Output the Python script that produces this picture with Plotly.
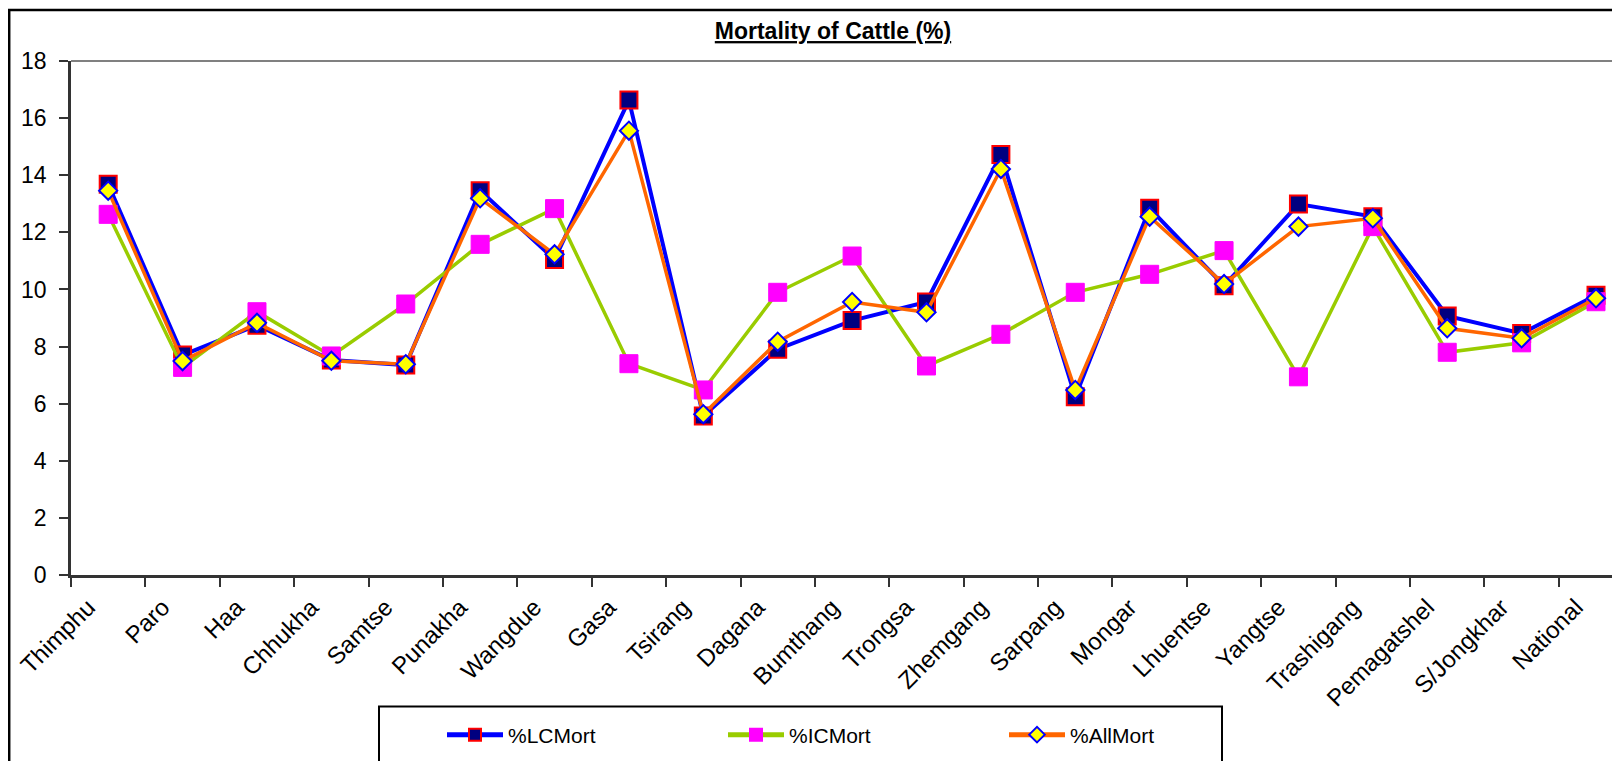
import plotly.graph_objects as go

districts = ["Thimphu", "Paro", "Haa", "Chhukha", "Samtse", "Punakha", "Wangdue",
             "Gasa", "Tsirang", "Dagana", "Bumthang", "Trongsa", "Zhemgang", "Sarpang",
             "Mongar", "Lhuentse", "Yangtse", "Trashigang", "Pemagatshel", "S/Jongkhar",
             "National"]
lc_mort = [13.68, 7.70, 8.75, 7.53, 7.35, 13.46, 11.05, 16.63, 5.57, 7.91, 8.91,
           9.56, 14.73, 6.24, 12.84, 10.13, 12.99, 12.55, 9.07, 8.46, 9.80]
ic_mort = [12.63, 7.27, 9.22, 7.67, 9.49, 11.58, 12.83, 7.40, 6.48, 9.90, 11.17,
           7.32, 8.43, 9.90, 10.53, 11.36, 6.94, 12.20, 7.80, 8.13, 9.57]
all_mort = [13.46, 7.49, 8.83, 7.50, 7.38, 13.19, 11.23, 15.56, 5.63, 8.17, 9.56,
            9.20, 14.22, 6.48, 12.55, 10.19, 12.20, 12.49, 8.64, 8.29, 9.69]

# page body has an 8px margin, so figure coords = page coords - 8
W, H = 1620, 761
L, T = 63, 53
ph = 514
B = H - T - ph
pw = W - L
FONT = "Liberation Sans, Arial, sans-serif"

def px(x):  # figure pixel -> paper x
    return (x - L) / pw

def py(y):  # figure pixel -> paper y
    return (T + ph - y) / ph

fig = go.Figure()
fig.add_trace(go.Scatter(x=districts, y=lc_mort, name="%LCMort", mode="lines+markers",
                         line=dict(color="#0000FF", width=4),
                         marker=dict(symbol="square", size=17, color="#000080",
                                     line=dict(color="#FF0000", width=2))))
fig.add_trace(go.Scatter(x=districts, y=ic_mort, name="%ICMort", mode="lines+markers",
                         line=dict(color="#99CC00", width=3.5),
                         marker=dict(symbol="square", size=18, color="#FF00FF",
                                     line=dict(color="#FF00FF", width=1))))
fig.add_trace(go.Scatter(x=districts, y=all_mort, name="%AllMort", mode="lines+markers",
                         line=dict(color="#FF6600", width=3.5),
                         marker=dict(symbol="diamond", size=14, color="#FFFF00",
                                     line=dict(color="#0000FF", width=2))))

# chart frame, plot-area top border, legend box
fig.add_shape(type="rect", xref="paper", yref="paper",
              x0=px(1.2), x1=px(1640), y0=py(790), y1=py(2),
              line=dict(color="black", width=2.5), layer="below")
fig.add_shape(type="line", xref="paper", yref="paper", x0=0, x1=1, y0=1, y1=1,
              line=dict(color="#808080", width=2))
fig.add_shape(type="rect", xref="paper", yref="paper",
              x0=px(371), x1=px(1214), y0=py(790), y1=py(698.5),
              line=dict(color="black", width=2))

fig.update_layout(
    width=W, height=H,
    margin=dict(l=L, r=0, t=T, b=B),
    paper_bgcolor="white", plot_bgcolor="white",
    font=dict(family=FONT, size=23, color="black"),
    title=dict(text="<b><u>Mortality of Cattle (%)</u></b>", font=dict(size=23),
               xref="container", x=825 / W, xanchor="center",
               yref="container", y=1 - 23 / H, yanchor="middle"),
    xaxis=dict(type="category", range=[-0.5, 20.43], tickangle=-45,
               tickson="boundaries", ticks="outside", ticklen=9, tickwidth=2,
               tickcolor="#333333", showline=True, linecolor="#333333", linewidth=2.5,
               showgrid=False, zeroline=False, tickfont=dict(size=24),
               ticklabelshift=-20, ticklabelstandoff=6),
    yaxis=dict(range=[0, 18], dtick=2, ticks="outside", ticklen=9, tickwidth=2,
               tickcolor="#333333", showline=True, linecolor="#333333", linewidth=2.5,
               showgrid=False, zeroline=False, ticklabelstandoff=8),
    legend=dict(orientation="h", xref="paper", x=px(434), xanchor="left",
                yref="paper", y=py(727), yanchor="middle",
                entrywidth=210, entrywidthmode="pixels", itemwidth=56,
                itemsizing="constant",
                font=dict(size=21), bgcolor="rgba(0,0,0,0)", borderwidth=0),
)

fig.write_html("out.html")
